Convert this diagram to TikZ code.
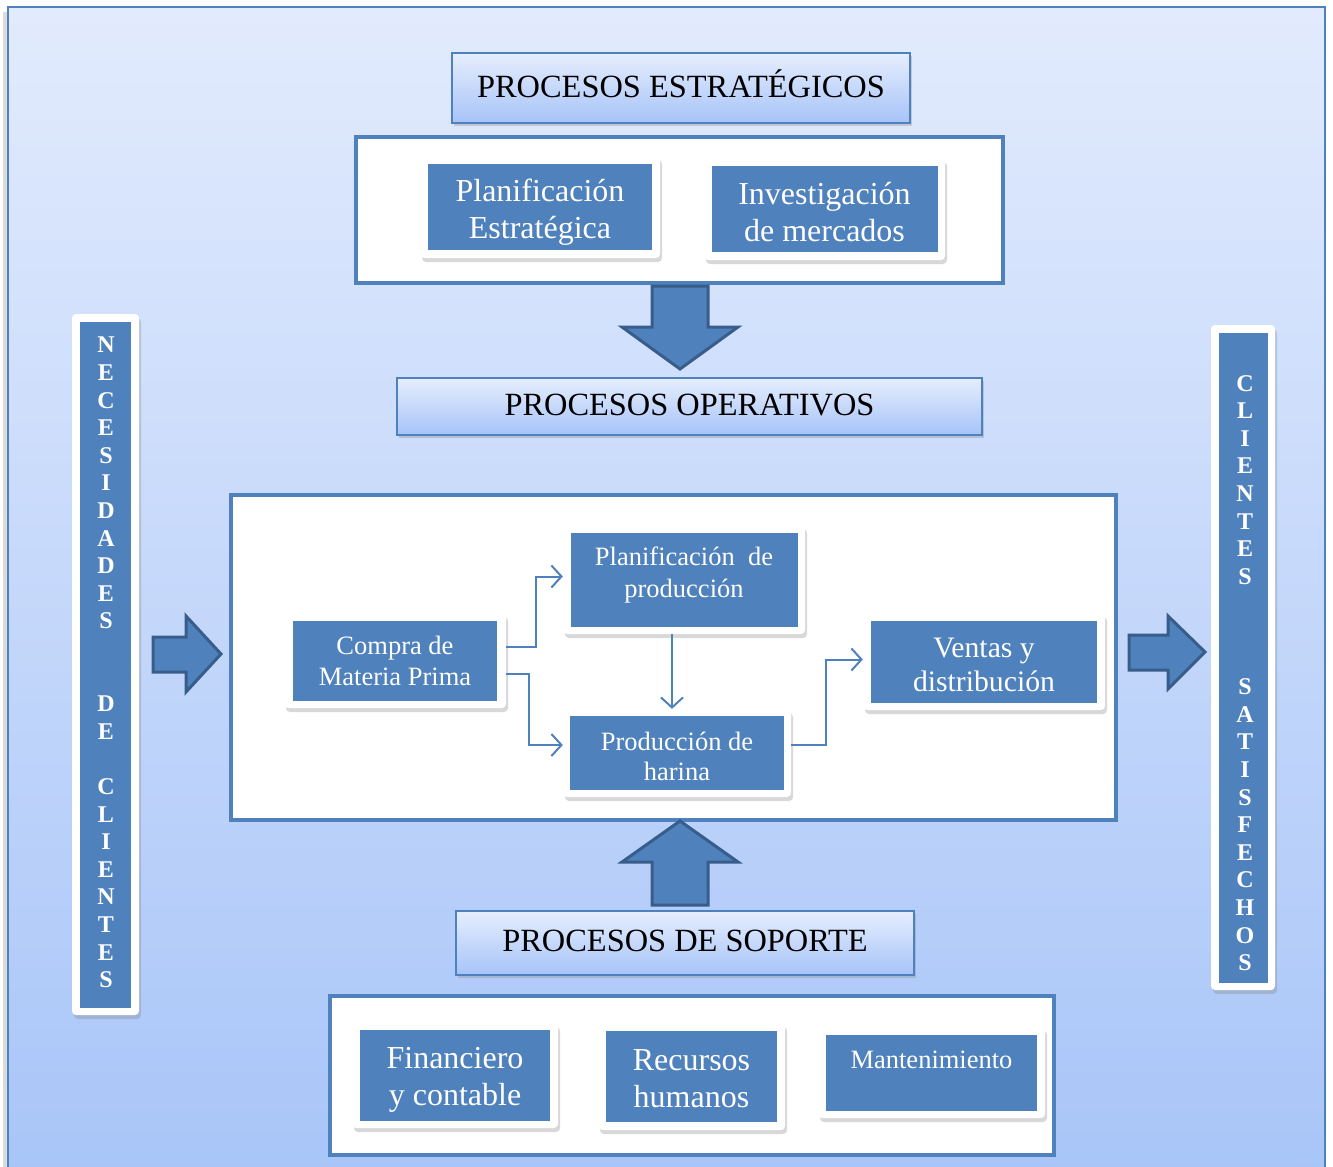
\documentclass[tikz,border=0pt]{standalone}
\usepackage{fontspec}
\setmainfont{Liberation Serif}
\usetikzlibrary{arrows.meta,shadows,calc}

\definecolor{accent}{HTML}{4F81BD}
\definecolor{accentdark}{HTML}{385D8A}
\definecolor{bgtop}{HTML}{E2EBFD}
\definecolor{bgbottom}{HTML}{A8C5F8}
\definecolor{hdtop}{HTML}{E6EEFE}
\definecolor{hdbottom}{HTML}{A6C3F8}

\tikzset{
  panel/.style={draw=accent, line width=4pt, fill=white, inner sep=0pt},
  header/.style={draw=accent, line width=1.5pt, top color=hdtop, bottom color=hdbottom,
    drop shadow={opacity=0.3, shadow xshift=2pt, shadow yshift=-3pt},
    font=\fontsize{32.4}{36}\selectfont, inner sep=0pt},
  frame/.style={fill=white, rounded corners=4pt, inner sep=0pt,
    drop shadow={opacity=0.3, shadow xshift=2pt, shadow yshift=-4pt}},
  card/.style={fill=accent, inner sep=0pt},
  label/.style={text=white, align=center, inner sep=0pt},
  conn/.style={draw=accent, line width=2pt, -{Straight Barb[length=10pt,width=22pt]}},
  blockarrow/.style={fill=accent, draw=accentdark, line width=3pt, line join=miter},
  letters/.style={text=white, align=center, inner sep=0pt,
    font=\fontsize{24}{27.6}\selectfont\bfseries}
}

\begin{document}
\begin{tikzpicture}[x=1pt, y=-1pt]
  \useasboundingbox (0,0) rectangle (1333,1167);
  \clip (0,0) rectangle (1333,1167);

  % page background
  \fill[black!14] (3,12) rectangle (9,1175);
  \path[draw=accent, line width=2.5pt, top color=bgtop, bottom color=bgbottom]
    (8,7) rectangle (1325,1180);

  % ---------- strategic processes ----------
  \node[header, minimum width=458, minimum height=70] (hstrat) at (681,88) {};
  \node[inner sep=0pt, font=\fontsize{32.4}{36}\selectfont] at (681,84) {PROCESOS ESTRATÉGICOS};
  \node[panel, minimum width=647, minimum height=146] (pstrat) at (679.5,210) {};

  \node[frame, minimum width=240, minimum height=102] (planest) at (540,207) {};
  \node[card, minimum width=224, minimum height=86] at (planest) {};
  \node[label, font=\fontsize{32}{37}\selectfont] at (540,212) {Planificación\\Estratégica};
  \node[frame, minimum width=241, minimum height=102] (invest) at (824.5,209) {};
  \node[card, minimum width=226, minimum height=86] at (invest) {};
  \node[label, font=\fontsize{32}{37}\selectfont] at (824.5,212) {Investigación\\de mercados};

  % ---------- operative processes ----------
  \node[header, minimum width=585, minimum height=57] (hoper) at (689.5,406.5) {};
  \node[inner sep=0pt, font=\fontsize{32.4}{36}\selectfont] at (689.5,405) {PROCESOS OPERATIVOS};
  \node[panel, minimum width=885, minimum height=325] (poper) at (673.5,657.5) {};

  \node[frame, minimum width=222, minimum height=95] (compra) at (395,660.5) {};
  \node[card, minimum width=204, minimum height=80] at (compra) {};
  \node[label, font=\fontsize{26.5}{31}\selectfont] at (395,661) {Compra de\\Materia Prima};
  \node[frame, minimum width=242, minimum height=109] (planprod) at (684,579.5) {};
  \node[card, minimum width=227, minimum height=94] at (planprod) {};
  \node[label, font=\fontsize{26.5}{32}\selectfont] at (684,574.5) {Planificación\ \ de\\producción};
  \node[frame, minimum width=228, minimum height=88] (produc) at (677,753) {};
  \node[card, minimum width=214, minimum height=74] at (produc) {};
  \node[label, font=\fontsize{26.5}{30}\selectfont] at (677,756) {Producción de\\harina};
  \node[frame, minimum width=242, minimum height=97] (ventas) at (984,661.5) {};
  \node[card, minimum width=226, minimum height=82] at (ventas) {};
  \node[label, font=\fontsize{29.7}{34}\selectfont] at (984,664.5) {Ventas y\\distribución};

  \draw[conn] ([yshift=13.5pt]compra.east) -- ++(30,0) |- ([yshift=3pt]planprod.west);
  \draw[conn] ([yshift=-13.5pt]compra.east) -- ++(23,0) |- ([yshift=8pt]produc.west);
  \draw[conn] ([xshift=-12pt]planprod.south) -- ([xshift=-12pt]planprod.south |- produc.north);
  \draw[conn] ([yshift=8pt]produc.east) -- ++(35,0) |- ([yshift=2pt]ventas.west);

  % ---------- support processes ----------
  \node[header, minimum width=458, minimum height=64] (hsupp) at (685,943) {};
  \node[inner sep=0pt, font=\fontsize{32.4}{36}\selectfont] at (685,941) {PROCESOS DE SOPORTE};
  \node[panel, minimum width=724, minimum height=159] (psupp) at (692,1075.5) {};

  \node[frame, minimum width=206, minimum height=105] (finan) at (455,1075.5) {};
  \node[card, minimum width=190, minimum height=91] at (finan) {};
  \node[label, font=\fontsize{32}{37}\selectfont] at (455,1080) {Financiero\\y contable};
  \node[frame, minimum width=187, minimum height=107] (recur) at (691.5,1076.5) {};
  \node[card, minimum width=171, minimum height=91] at (recur) {};
  \node[label, font=\fontsize{32}{37}\selectfont] at (691.5,1078.5) {Recursos\\humanos};
  \node[frame, minimum width=227, minimum height=91] (mant) at (931.5,1072.5) {};
  \node[card, minimum width=211, minimum height=76] at (mant) {};
  \node[label, font=\fontsize{26.5}{30}\selectfont] at (931.5,1060) {Mantenimiento};

  % ---------- customer bars ----------
  \node[frame, minimum width=67, minimum height=701] (needs) at (105.5,664.5) {};
  \node[card, minimum width=51, minimum height=686] at (needs) {};
  \node[letters] (needs-txt) at (106,662.5)
    {N\\E\\C\\E\\S\\I\\D\\A\\D\\E\\S\\~\\~\\D\\E\\~\\C\\L\\I\\E\\N\\T\\E\\S};

  \node[frame, minimum width=64, minimum height=665] (happy) at (1243,657.5) {};
  \node[card, minimum width=49, minimum height=650] at (happy) {};
  \node[letters] (happy-txt) at (1245,673)
    {C\\L\\I\\E\\N\\T\\E\\S\\~\\~\\~\\S\\A\\T\\I\\S\\F\\E\\C\\H\\O\\S};

  % ---------- block arrows ----------
  \draw[blockarrow] (652,286) -- (708,286) -- (708,327) -- (738,327) -- (680,369)
    -- (622,327) -- (652,327) -- cycle;
  \draw[blockarrow] (652,905) -- (708,905) -- (708,862) -- (738,862) -- (680,821)
    -- (622,862) -- (652,862) -- cycle;
  \draw[blockarrow] (153,637) -- (186,637) -- (186,616) -- (221,654) -- (186,692)
    -- (186,672) -- (153,672) -- cycle;
  \draw[blockarrow] (1129,635) -- (1168,635) -- (1168,616) -- (1205,652) -- (1168,689)
    -- (1168,670) -- (1129,670) -- cycle;
\end{tikzpicture}
\end{document}
